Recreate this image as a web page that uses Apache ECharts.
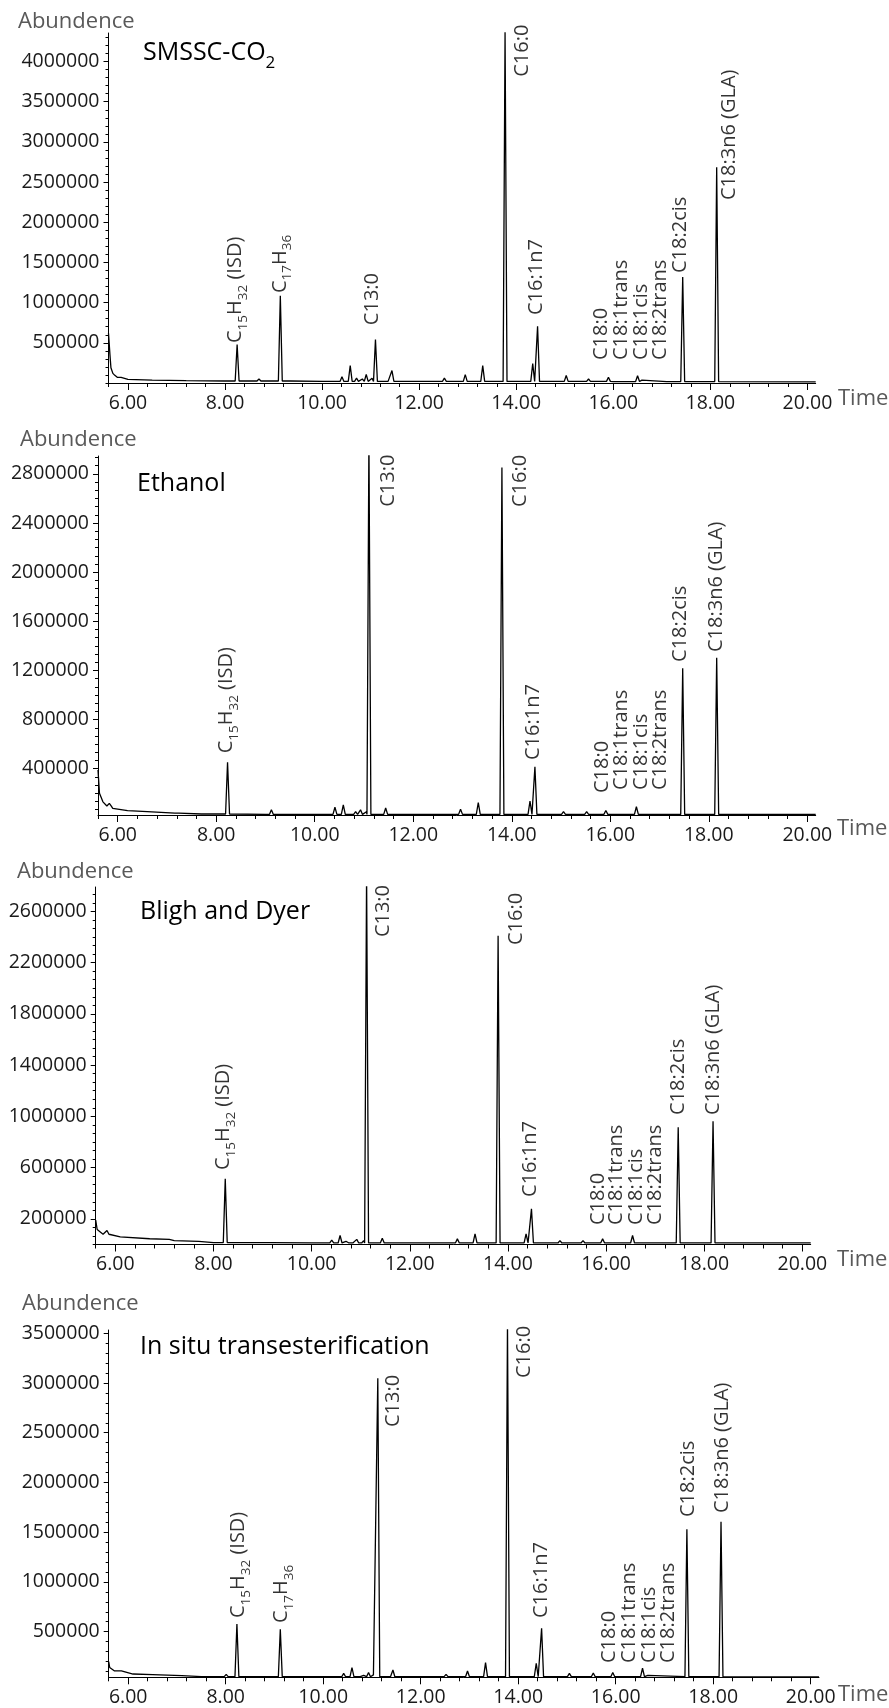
<!DOCTYPE html>
<html><head><meta charset="utf-8">
<script src="https://cdn.jsdelivr.net/npm/echarts@6/dist/echarts.min.js"></script>
<style>html,body{margin:0;padding:0;background:#fff}#c{width:889px;height:1708px}</style>
</head><body><div id="c"></div>
<script>
// ---------------- DATA ----------------
const panelNames = ['SMSSC-CO2', 'Ethanol', 'Bligh and Dyer', 'In situ transesterification'];
const xTickValues = [6, 8, 10, 12, 14, 16, 18, 20];

const yTicks1 = [500000, 1000000, 1500000, 2000000, 2500000, 3000000, 3500000, 4000000];
const yTicks2 = [400000, 800000, 1200000, 1600000, 2000000, 2400000, 2800000];
const yTicks3 = [200000, 600000, 1000000, 1400000, 1800000, 2200000, 2600000];
const yTicks4 = [500000, 1000000, 1500000, 2000000, 2500000, 3000000, 3500000];

// baseline readings [time, abundance]
const base1 = [[5.6,620000],[5.63,350000],[5.65,190000],[5.69,120000],[5.73,95000],[5.78,70000],[5.87,55000],[6.0,45000],[6.5,35000],[7.2,30000],[8.0,25000],[10.0,20000],[13.0,20000],[16.0,18000],[20.17,15000]];
const base2 = [[5.6,390000],[5.63,200000],[5.7,130000],[5.78,96000],[5.9,77000],[6.2,58000],[6.6,50000],[7.2,38000],[7.7,31000],[9.0,28000],[20.17,27000]];
const base3 = [[5.6,190000],[5.63,117000],[5.75,80000],[5.9,70000],[6.1,60000],[6.7,45000],[7.1,40000],[7.2,30000],[7.7,25000],[8.0,15000],[10.0,12000],[20.17,12000]];
const base4 = [[5.6,200000],[5.62,140000],[5.65,120000],[5.72,105000],[5.88,87000],[6.1,74000],[6.5,68000],[7.1,57000],[7.5,48000],[9.0,47000],[20.17,45000]];

// peaks [retention time, apex abundance]
const peaks1 = [[5.82,90000],[8.25,478000],[8.70,50000],[9.14,1087000],[9.30,40000],[10.16,35000],[10.41,77000],[10.58,217000],[10.71,60000],[10.83,50000],[10.91,106000],[11.03,60000],[11.10,540000],[11.32,35000],[11.44,155000],[11.87,30000],[12.17,35000],[12.52,60000],[12.95,105000],[13.31,217000],[13.77,4370000],[14.34,242000],[14.44,706000],[14.80,35000],[15.03,93000],[15.49,50000],[15.90,72000],[16.50,90000],[16.59,35000],[17.14,30000],[17.43,1320000],[18.13,2686000]];
const peaks2 = [[5.83,118000],[7.2,40000],[8.23,452000],[9.12,65000],[10.41,86000],[10.58,105000],[10.83,50000],[10.93,65000],[11.05,50000],[11.10,3100000],[11.44,80000],[11.89,35000],[12.2,35000],[12.52,40000],[12.96,70000],[13.32,123000],[13.80,2852000],[14.37,137000],[14.47,416000],[14.83,35000],[15.05,50000],[15.52,50000],[15.91,60000],[16.53,90000],[17.16,35000],[17.47,1217000],[18.16,1303000]];
const peaks3 = [[5.83,109000],[8.24,512000],[9.12,25000],[10.41,34000],[10.58,70000],[10.70,25000],[10.80,25000],[10.92,40000],[11.06,30000],[11.12,2900000],[11.44,49000],[12.52,25000],[12.97,44000],[13.33,83000],[13.80,2410000],[14.37,83000],[14.48,278000],[15.06,30000],[15.53,30000],[15.93,44000],[16.54,70000],[17.19,20000],[17.47,915000],[18.18,962000]];
const peaks4 = [[5.82,120000],[8.01,70000],[8.23,577000],[8.67,55000],[9.12,524000],[9.32,52000],[10.21,52000],[10.42,81000],[10.59,138000],[10.72,55000],[10.83,60000],[10.93,90000],[11.03,65000],[11.12,3047000],[11.34,55000],[11.43,114000],[11.89,55000],[12.19,55000],[12.52,70000],[12.96,105000],[13.33,188000],[13.78,3600000],[14.37,182000],[14.48,534000],[15.05,80000],[15.54,85000],[15.94,90000],[16.55,132000],[16.66,60000],[17.46,1530000],[18.16,1605000]];

// peak annotations [text, time, abundance at the start of the text]
const labels1 = [['C15H32 (ISD)',8.21,498000],['C17H36',9.13,1120000],['C13:0',11.04,720000],['C16:0',14.13,3810000],['C16:1n7',14.42,846000],['C18:0',15.75,286000],['C18:1trans',16.17,286000],['C18:1cis',16.58,286000],['C18:2trans',16.96,286000],['C18:2cis',17.38,1369000],['C18:3n6 (GLA)',18.40,2277000]];
const labels2 = [['C15H32 (ISD)',8.21,525000],['C13:0',11.49,2533000],['C16:0',14.17,2531000],['C16:1n7',14.44,471000],['C18:0',15.83,202000],['C18:1trans',16.23,226000],['C18:1cis',16.62,226000],['C18:2trans',17.01,226000],['C18:2cis',17.43,1269000],['C18:3n6 (GLA)',18.16,1350000]];
const labels3 = [['C15H32 (ISD)',8.20,581000],['C13:0',11.46,2399000],['C16:0',14.17,2337000],['C16:1n7',14.45,371000],['C18:0',15.84,152000],['C18:1trans',16.21,152000],['C18:1cis',16.62,152000],['C18:2trans',17.01,152000],['C18:2cis',17.47,1010000],['C18:3n6 (GLA)',18.18,1010000]];
const labels4 = [['C15H32 (ISD)',8.26,637000],['C17H36',9.15,587000],['C13:0',11.43,2557000],['C16:0',14.13,3050000],['C16:1n7',14.47,637000],['C18:0',15.87,185000],['C18:1trans',16.28,185000],['C18:1cis',16.68,185000],['C18:2trans',17.07,185000],['C18:2cis',17.48,1653000],['C18:3n6 (GLA)',18.19,1693000]];

// ---------------- LAYOUT / STYLE ----------------
const FONT = 'Open Sans';
const layout = [
  {grid:{left:108.5, top:33, width:707.2, height:350}, yMin:0, yMax:4355000, minorY:100000, title:[143,38], ab:[18,11], time:[838,388]},
  {grid:{left:98, top:456, width:717.7, height:359}, yMin:23000, yMax:2946000, minorY:400000/6, title:[137,469], ab:[20,429], time:[837,818]},
  {grid:{left:95.7, top:887, width:715, height:357.5}, yMin:0, yMax:2790000, minorY:400000/6, title:[140,897], ab:[17,861], time:[837,1249]},
  {grid:{left:108.7, top:1330, width:710.3, height:347.3}, yMin:41000, yMax:3533000, minorY:100000, title:[140,1332], ab:[22,1293], time:[838,1684]}
];
const X_MIN = 5.6, X_MAX = 20.17, PEAK_HW = 0.04;

const data = [
  {base:base1, peaks:peaks1, labels:labels1, ticks:yTicks1},
  {base:base2, peaks:peaks2, labels:labels2, ticks:yTicks2},
  {base:base3, peaks:peaks3, labels:labels3, ticks:yTicks3},
  {base:base4, peaks:peaks4, labels:labels4, ticks:yTicks4}
];

function baseBefore(base, t) {
  let v = base[0][1];
  for (const p of base) { if (p[0] <= t) v = p[1]; }
  return v;
}
function buildTrace(base, peaks) {
  const pts = base.map(p => [p[0], p[1]]);
  peaks.forEach(([t, h]) => {
    const b = baseBefore(base, t);
    pts.push([t - PEAK_HW, b], [t, h], [t + PEAK_HW, b]);
  });
  pts.sort((a, b) => a[0] - b[0]);
  return pts;
}
function richName(s) {
  const m = s.match(/^C(\d+)H(\d+)(.*)$/);
  if (m) return '{n|C}{s|' + m[1] + '}{n|H}{s|' + m[2] + '}' + (m[3] ? '{n|' + m[3] + '}' : '');
  return '{n|' + s + '}';
}
function minorValues(ticks, step, lo, hi) {
  const out = [];
  const start = ticks[0];
  for (let k = -50; k < 200; k++) {
    const v = start + k * step;
    if (v >= lo - 1 && v <= hi + 1) out.push(v);
  }
  return out;
}
const xMinor = [];
for (let k = 0; k <= 36; k++) { const v = +(X_MIN + k * 0.4).toFixed(2); if (v <= X_MAX) xMinor.push(v); }

const option = {
  animation: false,
  backgroundColor: '#ffffff',
  textStyle: {fontFamily: FONT},
  grid: [], xAxis: [], yAxis: [], series: [], title: []
};

const labelRich = {
  n: {fontFamily: FONT, fontSize: 20, color: '#000', lineHeight: 23},
  s: {fontFamily: FONT, fontSize: 13.5, color: '#000', verticalAlign: 'bottom', lineHeight: 23, padding: [0, 0, -3, 0]}
};

data.forEach((d, i) => {
  const L = layout[i];
  option.grid.push(Object.assign({containLabel: false}, L.grid));
  option.xAxis.push({
    type: 'value', gridIndex: i, min: X_MIN, max: X_MAX, position: 'bottom',
    axisLine: {show: true, onZero: false, lineStyle: {color: '#000', width: 1}},
    axisTick: {show: true, customValues: xTickValues, length: 7, inside: false, lineStyle: {color: '#000'}},
    axisLabel: {show: true, customValues: xTickValues, formatter: v => v.toFixed(2), fontFamily: FONT, fontSize: 19.5, color: '#1a1a1a', margin: 10},
    splitLine: {show: false}
  });
  option.xAxis.push({
    type: 'value', gridIndex: i, min: X_MIN, max: X_MAX, position: 'bottom',
    axisLine: {show: false, onZero: false},
    axisTick: {show: true, customValues: xMinor, length: 4, lineStyle: {color: '#000'}},
    axisLabel: {show: false}, splitLine: {show: false}
  });
  option.yAxis.push({
    type: 'value', gridIndex: i, min: L.yMin, max: L.yMax, position: 'left',
    axisLine: {show: true, onZero: false, lineStyle: {color: '#000', width: 1}},
    axisTick: {show: true, customValues: d.ticks, length: 5, lineStyle: {color: '#000'}},
    axisLabel: {show: true, customValues: d.ticks, formatter: v => String(Math.round(v)), fontFamily: FONT, fontSize: 19.5, color: '#1a1a1a', margin: 9},
    splitLine: {show: false}
  });
  option.yAxis.push({
    type: 'value', gridIndex: i, min: L.yMin, max: L.yMax, position: 'left',
    axisLine: {show: false, onZero: false},
    axisTick: {show: true, customValues: minorValues(d.ticks, L.minorY, L.yMin, L.yMax), length: 3, lineStyle: {color: '#000'}},
    axisLabel: {show: false}, splitLine: {show: false}
  });
  option.series.push({
    type: 'line', xAxisIndex: 2 * i, yAxisIndex: 2 * i,
    data: buildTrace(d.base, d.peaks), showSymbol: false, symbol: 'none',
    lineStyle: {color: '#000', width: 1.3}, clip: true, silent: true
  });
  option.series.push({
    type: 'scatter', xAxisIndex: 2 * i, yAxisIndex: 2 * i, symbolSize: 0, clip: false, silent: true,
    data: d.labels.map(l => ({name: l[0], value: [l[1], l[2]]})),
    label: {
      show: true, position: [0, 0], rotate: 90, align: 'left', verticalAlign: 'middle',
      formatter: p => richName(p.name), rich: labelRich
    }
  });
  const nm = panelNames[i];
  option.title.push({
    text: nm === 'SMSSC-CO2' ? '{n|SMSSC-CO}{s|2}' : '{n|' + nm + '}',
    left: L.title[0], top: L.title[1], padding: 0,
    textStyle: {fontWeight: 'normal', rich: {
      n: {fontFamily: FONT, fontSize: 25, fontWeight: 'normal', color: '#000', lineHeight: 30},
      s: {fontFamily: FONT, fontSize: 17, fontWeight: 'normal', color: '#000', verticalAlign: 'bottom', lineHeight: 30, padding: [0, 0, -4, 0]}
    }}
  });
  option.title.push({
    text: 'Abundence', left: L.ab[0], top: L.ab[1], padding: 0,
    textStyle: {fontFamily: FONT, fontSize: 22, fontWeight: 'normal', color: '#595959'}
  });
  option.title.push({
    text: 'Time', left: L.time[0], top: L.time[1], padding: 0,
    textStyle: {fontFamily: FONT, fontSize: 22, fontWeight: 'normal', color: '#595959'}
  });
});

const chart = echarts.init(document.getElementById('c'), null, {renderer: 'canvas'});
chart.setOption(option);
</script>
</body></html>
